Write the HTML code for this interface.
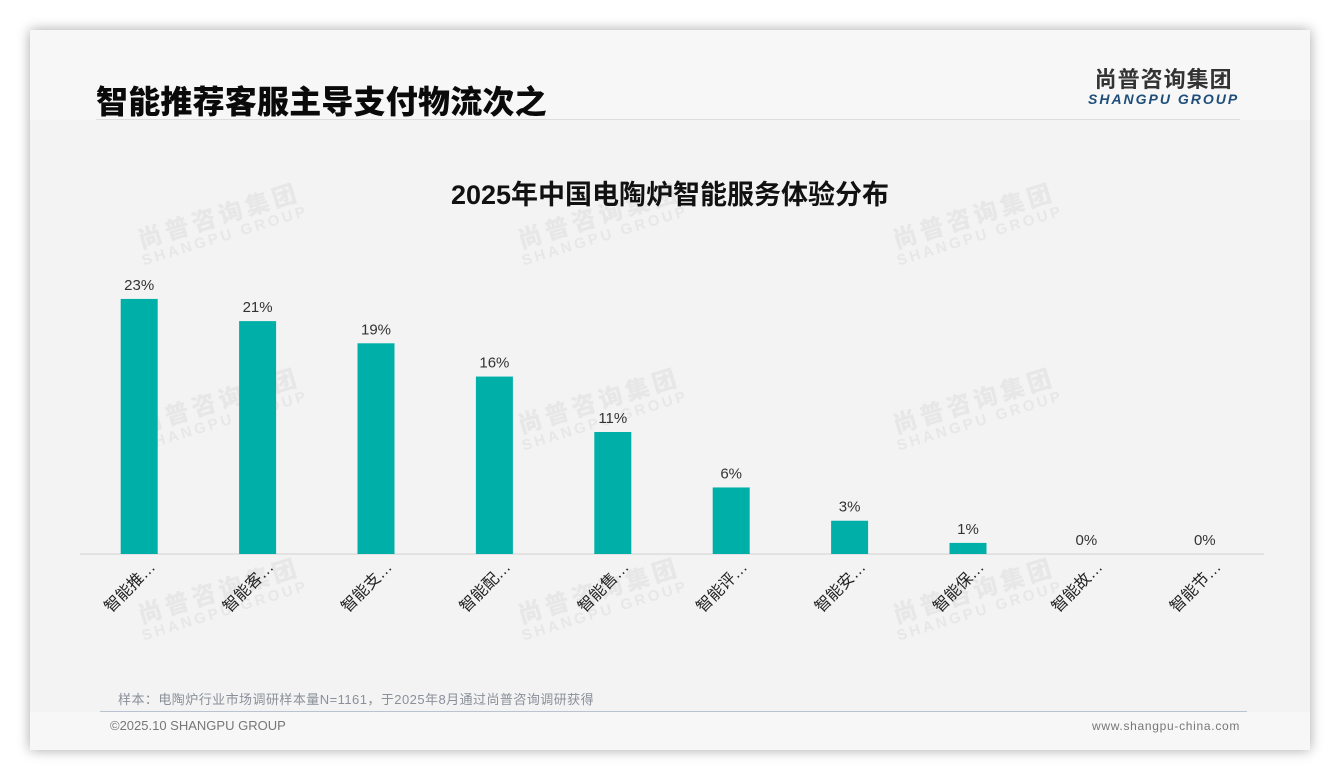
<!DOCTYPE html>
<html><head><meta charset="utf-8">
<style>
body{margin:0;width:1340px;height:780px;background:#fff;font-family:"Liberation Sans","Noto Sans CJK SC",sans-serif;position:relative;overflow:hidden}
.card{position:absolute;left:30px;top:30px;width:1280px;height:720px;background:#f3f3f3;box-shadow:0 0 12px rgba(0,0,0,.35)}
.hdr{position:absolute;left:0;top:0;width:1280px;height:90px;background:#f7f7f7}
.ftr{position:absolute;left:0;top:682px;width:1280px;height:38px;background:#f7f7f7}
.wm{position:absolute;color:rgba(185,185,185,.2);font-weight:bold;transform:rotate(-17deg);line-height:1;text-align:center}
.wm b{display:block;font-size:24px;letter-spacing:4px}
.wm i{display:block;font-size:15px;letter-spacing:3px;font-style:normal}
</style></head><body>
<div class="card">
<div class="hdr"></div>
<div class="ftr"></div>
</div>
<div style="position:absolute;left:96px;top:77px;font-size:32px;font-weight:900;color:#0a0a0a;letter-spacing:0.2px">智能推荐客服主导支付物流次之</div>
<div style="position:absolute;left:96px;top:119px;width:1144px;height:1px;background:#ddd"></div>
<div style="position:absolute;left:1088px;top:62px;text-align:center">
<div style="font-size:22px;font-weight:bold;color:#333;letter-spacing:1px">尚普咨询集团</div>
<div style="font-size:14px;font-weight:bold;font-style:italic;color:#1f4e79;letter-spacing:2px;margin-top:-3px">SHANGPU GROUP</div></div>
<div class="wm" style="left:135px;top:205px"><b>尚普咨询集团</b><i>SHANGPU GROUP</i></div>
<div class="wm" style="left:515px;top:205px"><b>尚普咨询集团</b><i>SHANGPU GROUP</i></div>
<div class="wm" style="left:890px;top:205px"><b>尚普咨询集团</b><i>SHANGPU GROUP</i></div>
<div class="wm" style="left:135px;top:390px"><b>尚普咨询集团</b><i>SHANGPU GROUP</i></div>
<div class="wm" style="left:515px;top:390px"><b>尚普咨询集团</b><i>SHANGPU GROUP</i></div>
<div class="wm" style="left:890px;top:390px"><b>尚普咨询集团</b><i>SHANGPU GROUP</i></div>
<div class="wm" style="left:135px;top:580px"><b>尚普咨询集团</b><i>SHANGPU GROUP</i></div>
<div class="wm" style="left:515px;top:580px"><b>尚普咨询集团</b><i>SHANGPU GROUP</i></div>
<div class="wm" style="left:890px;top:580px"><b>尚普咨询集团</b><i>SHANGPU GROUP</i></div>
<svg id="chart" width="1340" height="780" style="position:absolute;left:0;top:0">
<text x="670" y="204" text-anchor="middle" font-size="27" font-weight="bold" fill="#111">2025年中国电陶炉智能服务体验分布</text>
<line x1="80" y1="554" x2="1264" y2="554" stroke="#d0d0d0" stroke-width="1"/>
</svg>
<div style="position:absolute;left:118px;top:689px;font-size:13px;color:#8a8f99;letter-spacing:0.45px">样本：电陶炉行业市场调研样本量N=1161，于2025年8月通过尚普咨询调研获得</div>
<div style="position:absolute;left:100px;top:711px;width:1147px;height:1px;background:#b8c4d0"></div>
<div style="position:absolute;left:110px;top:718px;font-size:13px;color:#777">©2025.10 SHANGPU GROUP</div>
<div style="position:absolute;left:1092px;top:719px;font-size:12px;color:#777;letter-spacing:0.7px">www.shangpu-china.com</div>
<script>
const categories=["智能推…","智能客…","智能支…","智能配…","智能售…","智能评…","智能安…","智能保…","智能故…","智能节…"];
const values=[23,21,19,16,11,6,3,1,0,0];
const valueLabels=["23%","21%","19%","16%","11%","6%","3%","1%","0%","0%"];
const svg=document.getElementById('chart');
const NS='http://www.w3.org/2000/svg';
const x0=80,x1=1264,y0=554,pxPer=11.09;
const band=(x1-x0)/categories.length;
const xc=i=>x0+band*(i+0.5);
const y=v=>y0-v*pxPer;
categories.forEach((c,i)=>{
  const r=document.createElementNS(NS,'rect');
  r.setAttribute('x',xc(i)-18.5);r.setAttribute('y',y(values[i]));
  r.setAttribute('width',37);r.setAttribute('height',y0-y(values[i]));
  r.setAttribute('fill','#00b0a8');
  
  
  svg.appendChild(r);
  const t=document.createElementNS(NS,'text');
  t.setAttribute('x',xc(i));t.setAttribute('y',y(values[i])-9);
  t.setAttribute('text-anchor','middle');t.setAttribute('font-size','15');t.setAttribute('fill','#333');
  t.textContent=valueLabels[i];
  
  
  svg.appendChild(t);
  const l=document.createElementNS(NS,'text');
  const lx=xc(i)+17,ly=568;
  l.setAttribute('x',lx);l.setAttribute('y',ly);
  l.setAttribute('text-anchor','end');l.setAttribute('font-size','16');l.setAttribute('fill','#222');
  l.setAttribute('transform','rotate(-45 '+lx+' '+ly+')');
  l.textContent=c;
  
  
  svg.appendChild(l);
});
</script>
</body></html>
